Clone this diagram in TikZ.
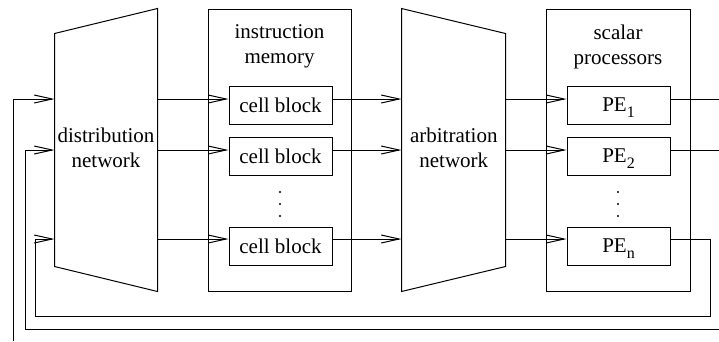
\documentclass[tikz,border=0pt]{standalone}
\usepackage{fontspec}
\setmainfont{Liberation Serif}
\newfontfamily\diagfont{Liberation Serif}
\usetikzlibrary{arrows.meta}
\begin{document}
\begin{tikzpicture}[x=1pt,y=-1pt,line width=1pt,
  lbl/.style={font=\diagfont\fontsize{21}{25}\selectfont,align=center,inner sep=0pt},
  unit/.style={draw,minimum width=103pt,minimum height=38pt,inner sep=0pt,
    font=\diagfont\fontsize{21}{25}\selectfont},
  frame/.style={draw,minimum width=#1,minimum height=282pt,inner sep=0pt},
  ghost/.style={inner sep=0pt,minimum width=#1,minimum height=282pt},
  arr/.style={-{Straight Barb[length=18pt,width=8pt]}},
  dotmark/.style={circle,fill,inner sep=0pt,minimum size=2.3pt}]
\useasboundingbox (0,0) rectangle (719,341);

% row levels of the signal lines
\coordinate (r1) at (0,99);
\coordinate (r2) at (0,150);
\coordinate (r3) at (0,239);

% distribution network (trapezoid widening to the right)
\node[ghost=102pt] (dist) at (106,150) {};
\draw ([yshift=-25pt]dist.north west) -- (dist.north east) -- (dist.south east)
  -- ([yshift=25pt]dist.south west) -- cycle;
\node[lbl] (distlbl) at (106,147.5) {distribution\\network};

% instruction memory
\node[frame=143pt] (mem) at (279.5,150) {};
\node[lbl] (memlbl) at (279.5,46.6) {instruction\\memory};
\node[unit] (cb1) at (280.5,105) {cell block};
\node[unit] (cb2) at (280.5,156) {cell block};
\node[unit] (cb3) at (280.5,246) {cell block};
\node[dotmark] (md1) at (280,192) {};
\node[dotmark] (md2) at (280,204) {};
\node[dotmark] (md3) at (280,216) {};

% arbitration network (trapezoid narrowing to the right)
\node[ghost=103pt] (arb) at (453.5,150) {};
\draw (arb.north west) -- ([yshift=-25pt]arb.north east)
  -- ([yshift=25pt]arb.south east) -- (arb.south west) -- cycle;
\node[lbl] (arblbl) at (453.8,147.5) {arbitration\\network};

% scalar processors
\node[frame=144pt] (sp) at (618,150) {};
\node[lbl] (splbl) at (618,46.6) {scalar\\processors};
\node[unit] (pe1) at (618.5,105) {PE\raisebox{-6pt}[0pt][0pt]{\fontsize{16}{16}\selectfont 1}};
\node[unit] (pe2) at (618.5,156) {PE\raisebox{-6pt}[0pt][0pt]{\fontsize{16}{16}\selectfont 2}};
\node[unit] (pe3) at (618.5,246) {PE\raisebox{-6pt}[0pt][0pt]{\fontsize{16}{16}\selectfont n}};
\node[dotmark] (pd1) at (618,192) {};
\node[dotmark] (pd2) at (618,204) {};
\node[dotmark] (pd3) at (618,216) {};

% forward signal paths
\foreach \i in {1,2,3}{
  \draw[arr] (dist.east |- r\i) -- (cb\i.west |- r\i);
  \draw[arr] (cb\i.east |- r\i) -- (arb.west |- r\i);
  \draw[arr] (arb.east |- r\i) -- (pe\i.west |- r\i);
}

% outputs and feedback loops
\coordinate (o1) at (719,99);
\coordinate (o2) at (719,150);
\coordinate (in2) at (719,329);
\coordinate (in1) at (13,341);
\draw (pe1.east |- r1) -- (o1);
\draw (pe2.east |- r2) -- (o2);
\draw[arr] (pe3.east |- r3) -| (710,316) -| (35,239) -- (dist.west |- r3);
\draw[arr] (in2) -| (25,150) -- (dist.west |- r2);
\draw[arr] (in1) |- (dist.west |- r1);
\end{tikzpicture}
\end{document}
